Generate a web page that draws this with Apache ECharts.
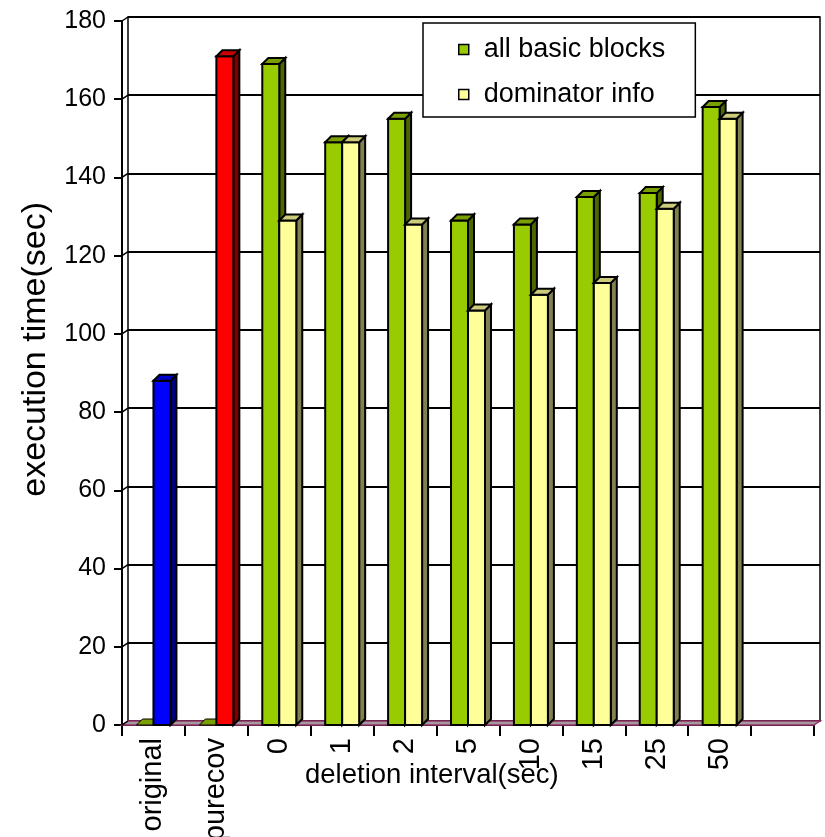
<!DOCTYPE html>
<html>
<head>
<meta charset="utf-8">
<script src="https://cdn.jsdelivr.net/npm/echarts@6/dist/echarts.min.js"></script>
<style>
  html, body { margin: 0; padding: 0; background: #fff; }
  #chart { width: 825px; height: 837px; }
</style>
</head>
<body>
<div id="chart"></div>
<script>
// Categories along the deletion-interval axis (the last slot is left empty)
const categories = ['original', 'purecov', '0', '1', '2', '5', '10', '15', '25', '50', ''];
// Execution time (sec) per category
const allBasicBlocks = [0, 0, 169, 149, 155, 129, 128, 135, 136, 158, null];
const dominatorInfo  = [88, 171, 129, 149, 128, 106, 110, 113, 132, 155, null];
// Value axis ticks
const yTicks = [0, 20, 40, 60, 80, 100, 120, 140, 160, 180];

// Face colours for the 3-D columns: front / top / side
const greenFaces  = { front: '#99CC00', top: '#7A9F00', side: '#4C6600' };
const yellowFaces = { front: '#FFFF99', top: '#CCCC7A', side: '#808050' };
// The two reference runs (original, purecov) get their own colours
const referenceFaces = {
  0: { front: '#0000FF', top: '#0000CC', side: '#000080' },
  1: { front: '#FF0000', top: '#CC0000', side: '#800000' }
};

const DEPTH_X = 6, DEPTH_Y = 4;   // back-wall offset
const BAR_D = 6;                  // column depth as drawn
const BAR_FRAC = 0.27;            // column width as a share of a category band
const FONT = 'Arial, "Liberation Sans", sans-serif';

function columnRenderer(slot, facesFor) {
  return function (params, api) {
    const idx = api.value(0);
    const val = api.value(1);
    if (isNaN(val)) return null;
    const base = api.coord([idx, 0]);
    const top = api.coord([idx, val]);
    const band = api.size([1, 0])[0];
    const w = band * BAR_FRAC;
    const x0 = slot === 0 ? base[0] - w : base[0];
    const x1 = x0 + w;
    const y0 = base[1], y1 = top[1];
    const f = facesFor(idx);
    const stroke = { stroke: '#000', lineWidth: 2, lineJoin: 'miter' };
    const children = [];
    if (y0 - y1 > 0.5) {
      children.push({
        type: 'polygon',
        shape: { points: [[x1, y1], [x1 + BAR_D, y1 - BAR_D], [x1 + BAR_D, y0 - BAR_D], [x1, y0]] },
        style: Object.assign({ fill: f.side }, stroke)
      });
      children.push({
        type: 'rect',
        shape: { x: x0, y: y1, width: w, height: y0 - y1 },
        style: Object.assign({ fill: f.front }, stroke)
      });
    }
    children.push({
      type: 'polygon',
      shape: { points: [[x0, y1], [x0 + BAR_D, y1 - BAR_D], [x1 + BAR_D, y1 - BAR_D], [x1, y1]] },
      style: Object.assign({ fill: f.top }, stroke, y0 - y1 > 0.5 ? {} : { lineWidth: 1 })
    });
    return { type: 'group', children: children };
  };
}

const chart = echarts.init(document.getElementById('chart'), null, { renderer: 'canvas' });

const option = {
  animation: false,
  backgroundColor: '#fff',
  textStyle: { fontFamily: FONT, color: '#000' },
  grid: [
    { left: 122, top: 21, width: 692, height: 704, outerBoundsMode: 'none', containLabel: false },
    { left: 128, top: 17, width: 692, height: 704, outerBoundsMode: 'none', containLabel: false,
      show: true, borderColor: '#000', borderWidth: 1.5, backgroundColor: 'transparent', z: 0 }
  ],
  xAxis: [
    {
      type: 'category', gridIndex: 0, data: categories, boundaryGap: true,
      axisLine: { show: true, lineStyle: { color: '#000', width: 2 } },
      axisTick: { show: true, alignWithLabel: false, length: 11, lineStyle: { color: '#000', width: 2 } },
      axisLabel: { rotate: 90, margin: 13, fontSize: 29, color: '#000', fontFamily: FONT, interval: 0 },
      splitLine: { show: false }
    },
    {
      type: 'category', gridIndex: 1, data: categories, show: false
    }
  ],
  yAxis: [
    {
      type: 'value', gridIndex: 0, min: 0, max: 180, interval: 20,
      axisLine: { show: true, lineStyle: { color: '#000', width: 2 } },
      axisTick: { show: true, length: 8, lineStyle: { color: '#000', width: 2 } },
      axisLabel: { margin: 16, fontSize: 25, color: '#000', fontFamily: FONT,
        customValues: yTicks },
      splitLine: { show: false }
    },
    {
      type: 'value', gridIndex: 1, min: 0, max: 180, interval: 20,
      axisLine: { show: false }, axisTick: { show: false }, axisLabel: { show: false },
      splitLine: { show: true, lineStyle: { color: '#000', width: 2 } }
    }
  ],
  legend: {
    orient: 'vertical', left: 423, top: 23,
    padding: [13, 30, 9, 35],
    itemGap: 18, itemWidth: 10, itemHeight: 10,
    backgroundColor: '#fff', borderColor: '#000', borderWidth: 1.5,
    textStyle: { fontSize: 27, color: '#000', fontFamily: FONT, padding: [0, 0, 0, 10] },
    data: [
      { name: 'all basic blocks', icon: 'rect', itemStyle: { color: greenFaces.front, borderColor: '#000', borderWidth: 1.5 } },
      { name: 'dominator info', icon: 'rect', itemStyle: { color: yellowFaces.front, borderColor: '#000', borderWidth: 1.5 } }
    ]
  },
  graphic: [
    {
      type: 'text', left: 305, top: 761,
      style: { text: 'deletion interval(sec)', font: '27.5px ' + FONT, fill: '#000' }
    },
    {
      type: 'text', left: 19, top: 202, rotation: Math.PI / 2,
      style: { text: 'execution time(sec)', font: '34px ' + FONT, fill: '#000' }
    }
  ],
  series: [
    {
      // floor of the plot box
      type: 'custom', name: 'floor', xAxisIndex: 0, yAxisIndex: 0, z: 1, silent: true,
      data: [[0, 0]],
      renderItem: function (params, api) {
        const cs = params.coordSys;
        const yb = api.coord([0, 0])[1];
        return {
          type: 'polygon',
          shape: { points: [[cs.x, yb], [cs.x + DEPTH_X, yb - DEPTH_Y], [cs.x + cs.width + DEPTH_X, yb - DEPTH_Y], [cs.x + cs.width, yb]] },
          style: { fill: '#A09AA0', stroke: '#993366', lineWidth: 1.5 }
        };
      }
    },
    {
      // connectors from the front axis ticks to the back-wall gridlines
      type: 'custom', name: 'tickLinks', xAxisIndex: 0, yAxisIndex: 0, z: 2, silent: true,
      data: yTicks.map(function (t) { return [0, t]; }),
      renderItem: function (params, api) {
        const x = params.coordSys.x;
        const y = api.coord([0, api.value(1)])[1];
        return {
          type: 'line',
          shape: { x1: x, y1: y, x2: x + DEPTH_X, y2: y - DEPTH_Y },
          style: { stroke: '#000', lineWidth: 1.5 }
        };
      }
    },
    {
      type: 'custom', name: 'all basic blocks', xAxisIndex: 0, yAxisIndex: 0, z: 3,
      itemStyle: { color: greenFaces.front, borderColor: '#000', borderWidth: 1 },
      encode: { x: 0, y: 1 },
      data: allBasicBlocks.map(function (v, i) { return [i, v == null ? '-' : v]; }),
      renderItem: columnRenderer(0, function () { return greenFaces; })
    },
    {
      type: 'custom', name: 'dominator info', xAxisIndex: 0, yAxisIndex: 0, z: 4,
      itemStyle: { color: yellowFaces.front, borderColor: '#000', borderWidth: 1 },
      encode: { x: 0, y: 1 },
      data: dominatorInfo.map(function (v, i) { return [i, v == null ? '-' : v]; }),
      renderItem: columnRenderer(1, function (idx) { return referenceFaces[idx] || yellowFaces; })
    }
  ]
};

chart.setOption(option);
</script>
</body>
</html>
